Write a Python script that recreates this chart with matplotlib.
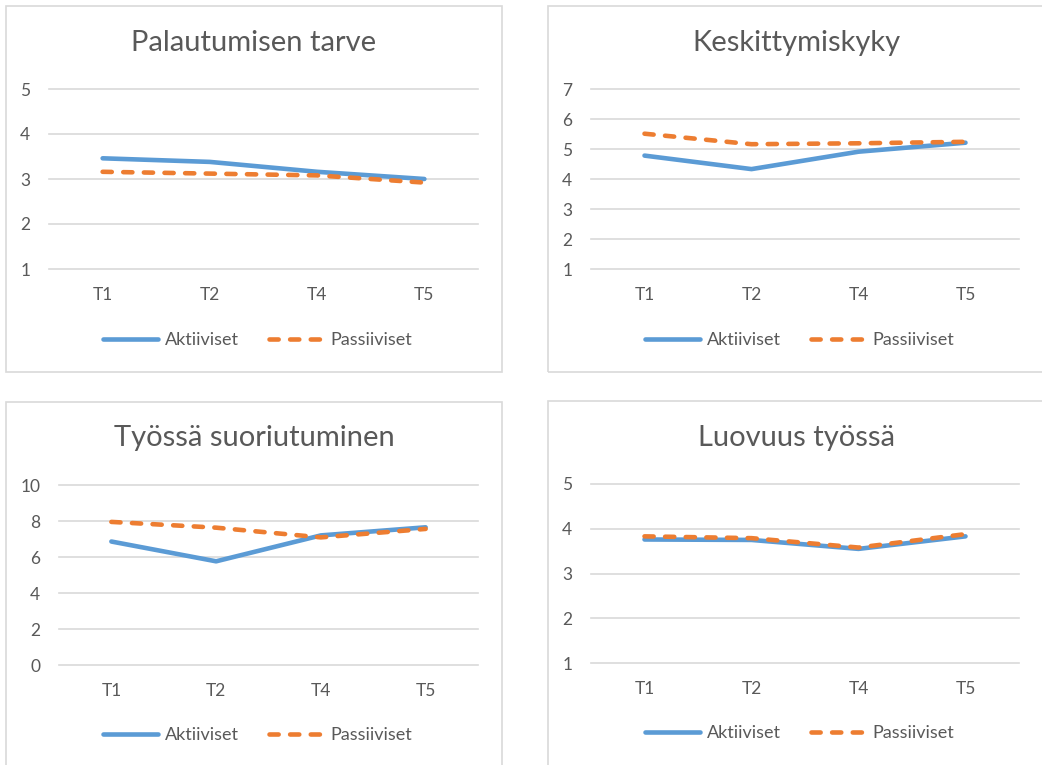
import matplotlib.pyplot as plt
from matplotlib.patches import Rectangle

# data
categories = ['T1', 'T2', 'T4', 'T5']
titles = ['Palautumisen tarve', 'Keskittymiskyky', 'Työssä suoriutuminen', 'Luovuus työssä']
aktiiviset = [
    [3.46, 3.38, 3.16, 3.00],
    [4.78, 4.33, 4.91, 5.21],
    [6.86, 5.76, 7.20, 7.65],
    [3.76, 3.75, 3.55, 3.83],
]
passiiviset = [
    [3.16, 3.12, 3.08, 2.92],
    [5.51, 5.16, 5.19, 5.24],
    [7.95, 7.63, 7.09, 7.56],
    [3.83, 3.79, 3.58, 3.88],
]
y_ticks = [
    [1, 2, 3, 4, 5],
    [1, 2, 3, 4, 5, 6, 7],
    [0, 2, 4, 6, 8, 10],
    [1, 2, 3, 4, 5],
]

W, H = 1042, 765
plt.rcParams['font.family'] = ['Lato', 'DejaVu Sans']
fig = plt.figure(figsize=(W / 100, H / 100), dpi=100)

grey = '#595959'
grid = '#d9d9d9'
blue = '#5b9bd5'
orange = '#ed7d31'

# pixel layout: box (x0, y0, x1, y1), axes (x0, x1, ytop, ybottom), title y, legend y
layout = [
    ((6, 6, 502, 372), (49, 478, 89, 269), 43, 340),
    ((548, 6, 1044, 372), (591, 1019, 89, 269), 43, 340),
    ((6, 402, 502, 770), (59, 478, 485, 665), 438, 735),
    ((548, 401, 1044, 770), (591, 1019, 484, 663), 438, 733),
]


def fx(x):
    return x / W


def fy(y):
    return 1 - y / H


for i, (box, axb, ty, ly) in enumerate(layout):
    bx0, by0, bx1, by1 = box
    fig.patches.append(Rectangle((fx(bx0), fy(by1)), fx(bx1 - bx0), (by1 - by0) / H,
                                 transform=fig.transFigure, fill=False,
                                 edgecolor=grid, linewidth=1.2))
    ax0, ax1_, ayt, ayb = axb
    ax = fig.add_axes([fx(ax0), fy(ayb), fx(ax1_ - ax0), (ayb - ayt) / H])
    xs = range(len(categories))
    ax.plot(xs, aktiiviset[i], color=blue, lw=3.3, solid_capstyle='round',
            label='Aktiiviset', clip_on=False)
    ax.plot(xs, passiiviset[i], color=orange, lw=3.3, dashes=(2.0, 2.5),
            dash_capstyle='round', label='Passiiviset', clip_on=False)
    ax.set_xlim(-0.5, 3.5)
    ax.set_ylim(y_ticks[i][0], y_ticks[i][-1])
    ax.set_yticks(y_ticks[i])
    ax.set_xticks(list(xs))
    ax.set_xticklabels(categories)
    for v in y_ticks[i]:
        ax.axhline(v, color=grid, lw=1.2, zorder=0, clip_on=False)
    for s in ax.spines.values():
        s.set_visible(False)
    ax.tick_params(axis='both', length=0, colors=grey, labelsize=12.5)
    ax.tick_params(axis='y', pad=13.5)
    ax.tick_params(axis='x', pad=13)
    cx = (bx0 + bx1) / 2
    fig.text(fx(cx), fy(ty), titles[i], ha='center', va='center',
             fontsize=21, color=grey)
    ax.legend(loc='center', bbox_to_anchor=(fx(cx + 4), fy(ly)), bbox_transform=fig.transFigure,
              ncol=2, frameon=False, fontsize=13, labelcolor=grey,
              handlelength=3.05, handletextpad=0.35, columnspacing=1.7)

fig.savefig('out.png', dpi=100, facecolor='white')
